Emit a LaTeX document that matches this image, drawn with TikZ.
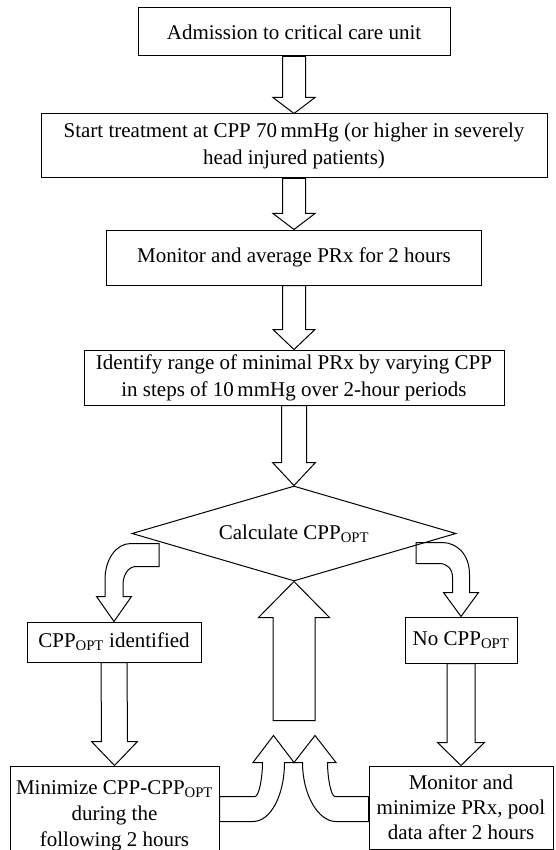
\documentclass[tikz,border=0pt]{standalone}
\usepackage{fontspec}
\setmainfont{Liberation Serif}
\usetikzlibrary{shapes, positioning, calc}

\newcommand{\fatarrow}[5]{%
  \draw[fat] ($(#1)+({-#3},0)$) -- ($(#2)+({-#3},{-(#5)})$) -- ($(#2)+({-#4},{-(#5)})$) -- (#2)
    -- ($(#2)+({#4},{-(#5)})$) -- ($(#2)+({#3},{-(#5)})$) -- ($(#1)+({#3},0)$) -- cycle;}

\begin{document}
\begin{tikzpicture}[
        x=1pt, y=-1pt,
        line width=1pt,
        box/.style={draw, rectangle, align=center, inner sep=2pt,
          font=\fontsize{21}{27}\selectfont},
        decision/.style={draw, diamond, aspect=3.4, inner sep=0pt,
          minimum width=324pt, minimum height=95pt,
          font=\fontsize{21}{27}\selectfont},
        fat/.style={draw}
      ]
      \useasboundingbox (0,0) rectangle (555,850);
      \node[box, minimum width=312pt, minimum height=48pt] (adm) at (294,32)
        {Admission to critical care unit};
      \node[box, minimum width=506pt, minimum height=64pt, below=57pt of adm] (start)
        {Start treatment at CPP 70\,mmHg (or higher in severely\\ head injured patients)};
      \node[box, minimum width=375pt, minimum height=55pt, below=51pt of start] (mon)
        {Monitor and average PRx for 2 hours};
      \node[box, minimum width=420pt, minimum height=55pt, below=64pt of mon] (ident)
        {Identify range of minimal PRx by varying CPP\\ in steps of 10\,mmHg over 2-hour periods};
      \node[decision, below=80pt of ident] (calc) {Calculate CPP\textsubscript{OPT}};
      \node[box, minimum width=174pt, minimum height=40pt, below=40pt of calc.south, xshift=-180pt] (found)
        {CPP\textsubscript{OPT} identified};
      \node[box, minimum width=112pt, minimum height=46pt, below=35pt of calc.south, xshift=167pt] (none)
        {No CPP\textsubscript{OPT}};
      \node[box, minimum width=209pt, minimum height=100pt, below=103pt of found, xshift=0.5pt,
        font=\fontsize{21}{26}\selectfont] (mini)
        {Minimize CPP-CPP\textsubscript{OPT}\\ during the\\ following 2 hours};
      \node[box, minimum width=184pt, minimum height=83pt, below=102pt of none,
        font=\fontsize{21}{25}\selectfont] (pool)
        {Monitor and\\ minimize PRx, pool\\ data after 2 hours};

      \fatarrow{adm.south}{start.north}{11.5}{21}{16}
      \fatarrow{start.south}{mon.north}{11.5}{21}{16}
      \fatarrow{mon.south}{ident.north}{11.5}{21}{20}
      \fatarrow{ident.south}{calc.north}{12.5}{21.5}{23}
      \fatarrow{found.south}{mini.north}{13}{23}{24}
      \fatarrow{none.south}{pool.north}{14}{23.5}{23}

      \draw[fat] ($(found.north)+(45,-78)$) -- ++(-28,0)
        .. controls +(-15,0) and +(0,-20) .. ++(-26,36) -- ++(0,17) -- ++(-8.5,0)
        -- (found.north) -- ++(17.5,-25) -- ++(-8.5,0) -- ++(0,-12)
        .. controls +(0,-9) and +(-8,0) .. ++(13,-18) -- ++(23,0) -- cycle;
      \draw[fat] ($(none.north)+(-45,-74)$) -- ++(26,0)
        .. controls +(15,0) and +(0,-20) .. ++(27.5,32) -- ++(0,18) -- ++(9,0)
        -- (none.north) -- ++(-17.5,-24) -- ++(9,0) -- ++(0,-15)
        .. controls +(0,-9) and +(8,0) .. ++(-13.5,-14) -- ++(-23,0) -- cycle;

      \coordinate (tail) at ($(calc.south)+(0,139)$);
      \coordinate (m) at ($(tail)+(0,42)$);
      \fatarrow{tail}{calc.south}{21}{35.5}{-36}

      \draw[fat] (mini.east) |- ($(m)+(-39,34)$) .. controls +(4,0) and +(0,15) .. ($(m)+(-31.5,0)$)
        -- ++(-9.5,0) -- ++(20.5,-27) -- (m) -- ++(-9.5,0)
        .. controls +(0,32) and +(18,0) .. ($(m)+(-41,59)$) -| (mini.east);
      \draw[fat] (pool.west) |- ($(m)+(41,34)$) .. controls +(-4,0) and +(0,15) .. ($(m)+(33.5,0)$)
        -- ++(8.5,0) -- ++(-21,-27) -- (m) -- ++(8.5,0)
        .. controls +(0,32) and +(-18,0) .. ($(m)+(42,59)$) -| (pool.west);
\end{tikzpicture}
\end{document}
